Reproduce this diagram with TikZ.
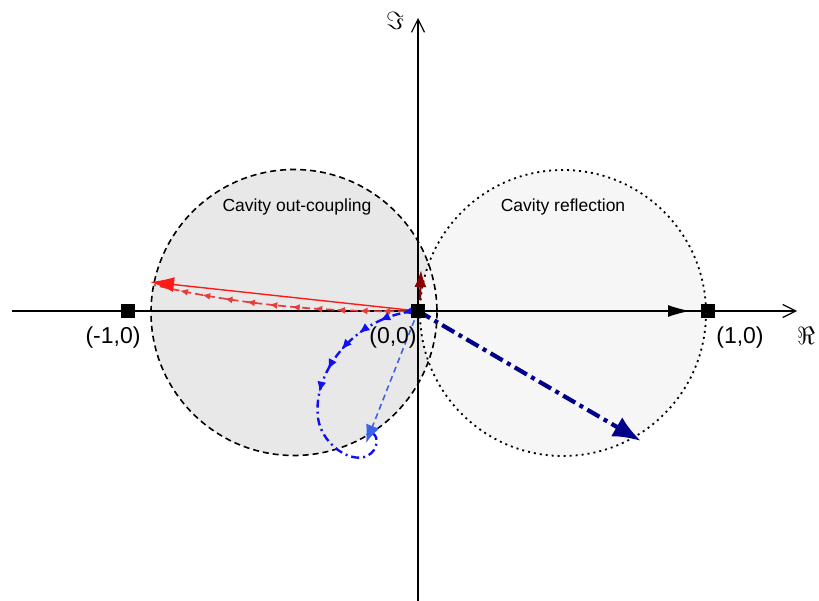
\documentclass[tikz,border=0pt]{standalone}
\usepackage{fontspec}
\setmainfont{Liberation Sans}
\usetikzlibrary{arrows.meta,decorations.markings}
\definecolor{lgray}{HTML}{E8E8E8}
\definecolor{vlgray}{HTML}{F6F6F6}
\definecolor{navyc}{HTML}{00008B}
\definecolor{royal}{HTML}{3D64E6}
\definecolor{bluec}{HTML}{1010F0}
\definecolor{redc}{HTML}{FF1A1A}
\definecolor{redd}{HTML}{E63C3C}
\definecolor{darkred}{HTML}{8B0000}
\tikzset{
  axis/.style={line width=1.2pt,-{Straight Barb[length=13pt,width=13pt]}},
  marker/.style={fill=black,minimum size=14pt,inner sep=0pt},
  coord/.style={font=\fontsize{23}{26}\selectfont},
  cavlabel/.style={font=\fontsize{17.5}{20}\selectfont},
  axlabel/.style={font=\fontsize{27}{30}\selectfont},
}
\begin{document}
\begin{tikzpicture}[x=1pt,y=-1pt]
\useasboundingbox (0,0) rectangle (819,601);
% circles
\fill[lgray] (294,312.5) circle[radius=143];
\fill[vlgray] (563,313) circle[radius=143];
\draw[line width=1.6pt,dash pattern=on 6pt off 4pt] (294,312.5) circle[radius=143];
\draw[line width=1.8pt,dash pattern=on 2pt off 4pt] (563,313) circle[radius=143];
\node[cavlabel] (lc) at (297,207) {Cavity out-coupling};
\node[cavlabel] (rc) at (563,207) {Cavity reflection};
% axes
\coordinate (xl) at (12,311);
\coordinate (xr) at (797,311);
\coordinate (yb) at (418,601);
\coordinate (yt) at (418,18);
\draw[axis] (xl) -- (xr);
\draw[axis] (yb) -- (yt);
\node[axlabel] (re) at (806,336) {$\Re$};
\node[axlabel] (im) at (395,21) {$\Im$};
% points
\coordinate (o) at (418,311);
\coordinate (m) at (128,311);
\coordinate (p) at (708,311);
% vectors
\coordinate (rt) at (150,282);
\coordinate (dt) at (421,270);
\coordinate (xt) at (690,311);
\coordinate (nt) at (641,441);
\coordinate (bt) at (366,443);
\draw[redd,line width=1.7pt,dash pattern=on 8pt off 4pt,postaction={decorate},
  decoration={markings,mark=between positions 0.05 and 0.95 step 0.085 with {\arrow{Latex[length=8pt,width=7pt]}}}]
  (o) .. controls (320,313) and (230,303) .. (154,285);
\draw[redc,line width=1.4pt,-{Latex[length=24pt,width=15pt]}] (o) -- (rt);
\draw[black,line width=1.4pt,-{Latex[length=22pt,width=12pt]}] (o) -- (xt);
\draw[navyc,line width=4.2pt,dash pattern=on 14pt off 5pt on 4pt off 5pt,-{Latex[length=28pt,width=22pt]}] (o) -- (nt);
\draw[bluec,line width=2.4pt,dash pattern=on 8pt off 4pt on 2pt off 4pt,postaction={decorate},
  decoration={markings,mark=between positions 0.06 and 0.55 step 0.09 with {\arrow{Latex[length=11pt,width=9pt]}}}]
  (o) .. controls (360,314) and (312,368) .. (318,418)
  .. controls (322,448) and (360,470) .. (374,450)
  .. controls (382,436) and (370,428) .. (366,437);
\draw[royal,line width=1.6pt,dash pattern=on 6pt off 4pt,-{Latex[length=18pt,width=14pt]}] (o) -- (bt);
\draw[darkred,line width=2.2pt,-{Latex[length=17pt,width=12pt]}] (420,300) -- (dt);
% markers
\node[marker] (nm) at (m) {};
\node[marker] (no) at (o) {};
\node[marker] (np) at (p) {};
\node[coord] (lm) at (113,338) {(-1,0)};
\node[coord] (lo) at (393,338) {(0,0)};
\node[coord] (lp) at (740,338) {(1,0)};
\end{tikzpicture}
\end{document}
